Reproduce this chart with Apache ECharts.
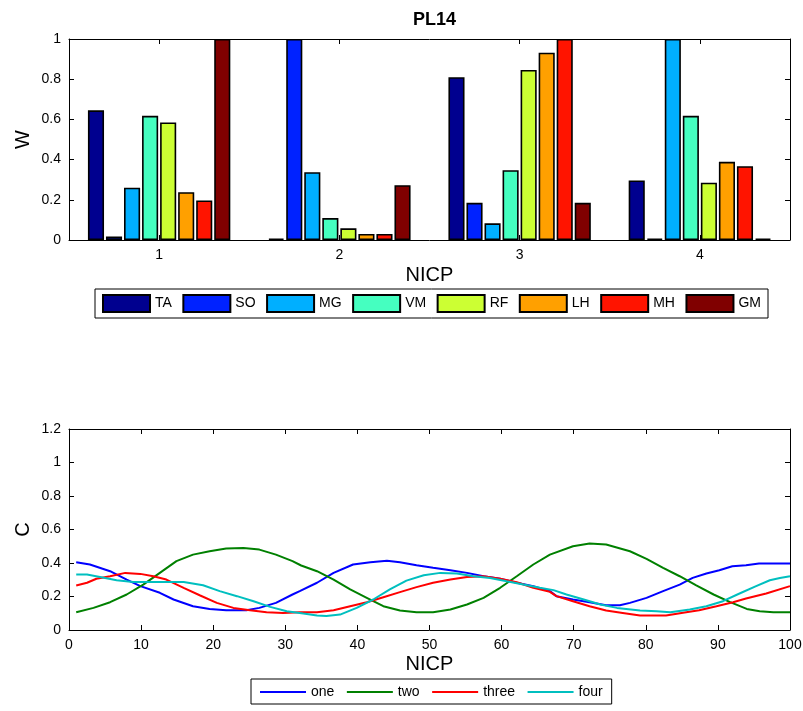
<!DOCTYPE html>
<html>
<head>
<meta charset="utf-8">
<script src="https://cdn.jsdelivr.net/npm/echarts@6/dist/echarts.min.js"></script>
<style>html,body{margin:0;padding:0;background:#fff;}#c{width:803px;height:711px;}</style>
</head>
<body>
<div id="c"></div>
<script>
// ---- top chart data ----
var categories = ['1', '2', '3', '4'];
var muscleNames = ['TA', 'SO', 'MG', 'VM', 'RF', 'LH', 'MH', 'GM'];
var TA = [0.645, 0.007, 0.81, 0.296];
var SO = [0.017, 1.0, 0.185, 0.006];
var MG = [0.26, 0.337, 0.083, 1.0];
var VM = [0.618, 0.109, 0.347, 0.618];
var RF = [0.585, 0.058, 0.846, 0.285];
var LH = [0.238, 0.03, 0.932, 0.389];
var MH = [0.197, 0.03, 1.0, 0.367];
var GM = [1.0, 0.273, 0.185, 0.006];
var muscleColors = ['#00008F', '#0022FF', '#00AFFF', '#45FFC0', '#CCFF33', '#FFA000', '#FF1400', '#800000'];

// ---- bottom chart data ----
var lineNames = ['one', 'two', 'three', 'four'];
var oneX = [1, 2.9, 5.7, 8, 9.9, 12.6, 14.5, 17.2, 19.5, 21.8, 24.6, 26.4, 28.7, 31, 32, 34.4, 36.7, 39.4, 41.8, 44.1, 45.9, 48.2, 50.5, 52.9, 55.2, 57.5, 59.8, 62.1, 64.4, 66.7, 67.6, 69.9, 72.2, 74.5, 76.4, 77.8, 80.1, 82.4, 84.7, 86.5, 88.4, 90.2, 92, 93.9, 95.7, 100];
var oneY = [0.405, 0.391, 0.351, 0.301, 0.262, 0.222, 0.182, 0.142, 0.126, 0.118, 0.118, 0.132, 0.162, 0.212, 0.232, 0.282, 0.341, 0.391, 0.405, 0.413, 0.405, 0.387, 0.371, 0.357, 0.341, 0.321, 0.306, 0.282, 0.262, 0.232, 0.202, 0.182, 0.166, 0.148, 0.148, 0.162, 0.192, 0.232, 0.271, 0.311, 0.337, 0.357, 0.381, 0.387, 0.397, 0.397];
var twoX = [1, 3.4, 5.7, 8, 10.3, 12.6, 14.9, 17.2, 19.5, 21.8, 24.2, 26.4, 28.7, 31, 32.2, 34.4, 36.7, 39, 41.3, 43.6, 45.9, 48.2, 50.5, 52.9, 55.2, 57.5, 59.8, 62.1, 64.4, 66.7, 69.9, 72.2, 74.5, 77.8, 80.1, 82.4, 84.7, 87, 89.4, 91.7, 94, 95.8, 97.7, 100];
var twoY = [0.106, 0.132, 0.166, 0.212, 0.271, 0.341, 0.411, 0.45, 0.47, 0.486, 0.49, 0.48, 0.45, 0.411, 0.385, 0.351, 0.301, 0.242, 0.192, 0.142, 0.116, 0.106, 0.106, 0.122, 0.152, 0.192, 0.252, 0.321, 0.391, 0.45, 0.5, 0.516, 0.51, 0.47, 0.425, 0.371, 0.321, 0.266, 0.212, 0.166, 0.126, 0.112, 0.106, 0.106];
var threeX = [1, 2.5, 3.8, 5.7, 7.8, 9.9, 11.7, 13.5, 15.9, 18.2, 20.5, 22.8, 25.1, 27.4, 29.7, 32, 34.4, 36.7, 39, 41.3, 43.6, 45.9, 48.2, 50.5, 52.9, 55.2, 57.5, 59.8, 62.1, 64.4, 66.7, 67.6, 69.9, 72.2, 74.5, 76.8, 79.2, 81.5, 82.8, 85.6, 87.4, 89.8, 92.1, 93.9, 96.7, 100];
var threeY = [0.266, 0.282, 0.306, 0.321, 0.341, 0.335, 0.321, 0.301, 0.252, 0.206, 0.162, 0.132, 0.118, 0.106, 0.102, 0.106, 0.106, 0.118, 0.142, 0.166, 0.196, 0.226, 0.256, 0.282, 0.301, 0.317, 0.321, 0.306, 0.285, 0.252, 0.228, 0.202, 0.172, 0.142, 0.116, 0.102, 0.087, 0.087, 0.087, 0.106, 0.118, 0.142, 0.166, 0.188, 0.218, 0.262];
var fourX = [1, 2.5, 4.3, 6.6, 8.9, 11.7, 14, 15.9, 18.6, 20.9, 23.3, 25.6, 27.9, 30.2, 32.5, 34.4, 35.7, 37.6, 39.9, 42.2, 44.5, 46.8, 49.2, 51.5, 53.8, 56.1, 58.4, 60.7, 63, 65.3, 67.2, 69, 71.4, 73.7, 76, 79.2, 81.5, 83.4, 86.1, 88.4, 90.7, 93, 95.3, 97.2, 98.6, 100];
var fourY = [0.331, 0.331, 0.317, 0.297, 0.287, 0.287, 0.287, 0.287, 0.267, 0.232, 0.202, 0.172, 0.138, 0.112, 0.098, 0.087, 0.083, 0.092, 0.132, 0.182, 0.242, 0.295, 0.327, 0.341, 0.337, 0.321, 0.311, 0.291, 0.272, 0.252, 0.238, 0.212, 0.182, 0.152, 0.132, 0.116, 0.112, 0.106, 0.122, 0.142, 0.172, 0.218, 0.262, 0.297, 0.311, 0.321];
var lineColors = ['#0000FF', '#008000', '#FF0000', '#00BFBF'];

var muscleData = [TA, SO, MG, VM, RF, LH, MH, GM];
var lineXs = [oneX, twoX, threeX, fourX];
var lineYs = [oneY, twoY, threeY, fourY];

function pairs(xs, ys) { return xs.map(function (x, i) { return [x, ys[i]]; }); }

var FONT = 'Liberation Sans, Arial, sans-serif';
var axisCommon = {
  axisLine: { show: true, onZero: false, lineStyle: { color: '#000', width: 1 } },
  axisTick: { show: true, inside: true, length: 5, lineStyle: { color: '#000' } },
  splitLine: { show: false },
  axisLabel: { color: '#000', fontSize: 14, fontFamily: FONT }
};
function ax(extra) { return Object.assign({}, JSON.parse(JSON.stringify(axisCommon)), extra); }

var series = [];
muscleNames.forEach(function (n, i) {
  series.push({
    name: n, type: 'bar', xAxisIndex: 0, yAxisIndex: 0,
    data: muscleData[i],
    barCategoryGap: '21%', barGap: '12%',
    itemStyle: { color: muscleColors[i], borderColor: '#000', borderWidth: 1.6 }
  });
});
lineNames.forEach(function (n, i) {
  series.push({
    name: n, type: 'line', xAxisIndex: 2, yAxisIndex: 2,
    data: pairs(lineXs[i], lineYs[i]),
    symbol: 'none', showSymbol: false, smooth: false,
    lineStyle: { color: lineColors[i], width: 2 },
    itemStyle: { color: lineColors[i] }
  });
});

var option = {
  animation: false,
  backgroundColor: '#fff',
  title: {
    text: 'PL14', left: 429.5, textAlign: 'center', top: 6,
    textStyle: { fontSize: 18, fontWeight: 'bold', color: '#000', fontFamily: FONT }
  },
  legend: [
    {
      data: muscleNames, left: 95, top: 289, orient: 'horizontal',
      icon: 'rect', itemWidth: 47, itemHeight: 17, itemGap: 10.5,
      padding: [5, 7, 5, 7], borderColor: '#000', borderWidth: 1,
      textStyle: { fontSize: 14, color: '#000', fontFamily: FONT }
    },
    {
      data: lineNames, left: 251, top: 679, orient: 'horizontal',
      icon: 'rect', itemWidth: 46, itemHeight: 2, itemGap: 12.5,
      padding: [6, 9, 5, 9], borderColor: '#000', borderWidth: 1,
      textStyle: { fontSize: 14, color: '#000', fontFamily: FONT }
    }
  ],
  grid: [
    { left: 69, top: 39, width: 721, height: 201, outerBoundsMode: 'none' },
    { left: 69, top: 429, width: 721, height: 201, outerBoundsMode: 'none' }
  ],
  xAxis: [
    ax({ type: 'category', gridIndex: 0, data: categories, position: 'bottom',
      axisTick: { show: true, inside: true, alignWithLabel: true, length: 5, lineStyle: { color: '#000' } },
      name: 'NICP', nameLocation: 'middle', nameGap: 25,
      nameTextStyle: { fontSize: 20, color: '#000', fontFamily: FONT } }),
    ax({ type: 'category', gridIndex: 0, data: categories, position: 'top',
      axisTick: { show: true, inside: true, alignWithLabel: true, length: 5, lineStyle: { color: '#000' } },
      axisLabel: { show: false } }),
    ax({ type: 'value', gridIndex: 1, min: 0, max: 100, interval: 10, position: 'bottom',
      name: 'NICP', nameLocation: 'middle', nameGap: 24,
      nameTextStyle: { fontSize: 20, color: '#000', fontFamily: FONT } }),
    ax({ type: 'value', gridIndex: 1, min: 0, max: 100, interval: 10, position: 'top',
      axisLabel: { show: false } })
  ],
  yAxis: [
    ax({ type: 'value', gridIndex: 0, min: 0, max: 1, interval: 0.2, position: 'left',
      name: 'W', nameLocation: 'middle', nameGap: 36, nameRotate: 90, nameMoveOverlap: false,
      nameTextStyle: { fontSize: 20, color: '#000', fontFamily: FONT } }),
    ax({ type: 'value', gridIndex: 0, min: 0, max: 1, interval: 0.2, position: 'right',
      axisLabel: { show: false } }),
    ax({ type: 'value', gridIndex: 1, min: 0, max: 1.2, interval: 0.2, position: 'left',
      name: 'C', nameLocation: 'middle', nameGap: 36, nameRotate: 90, nameMoveOverlap: false,
      nameTextStyle: { fontSize: 20, color: '#000', fontFamily: FONT } }),
    ax({ type: 'value', gridIndex: 1, min: 0, max: 1.2, interval: 0.2, position: 'right',
      axisLabel: { show: false } })
  ],
  series: series
};
var chart = echarts.init(document.getElementById('c'), null, { renderer: 'canvas' });
chart.setOption(option);
</script>
</body>
</html>
